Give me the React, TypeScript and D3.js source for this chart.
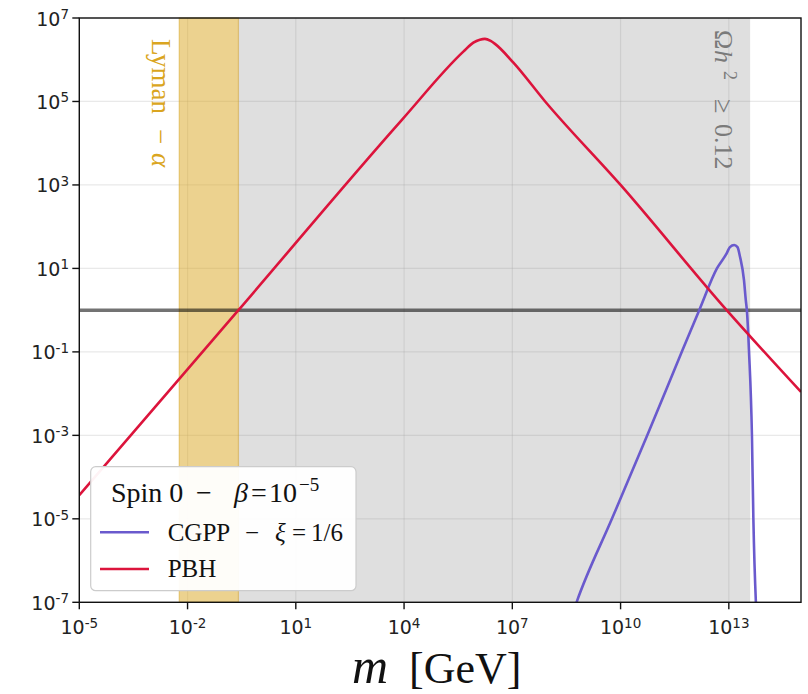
import React from "react";
import * as d3 from "d3";

// Canvas and plot frame
const WIDTH = 808;
const HEIGHT = 694;
const PLOT = { left: 79.3, right: 801, top: 18, bottom: 602.3 };

// Axis ticks (powers of ten)
const xTickExponents = [-5, -2, 1, 4, 7, 10, 13];
const yTickExponents = [7, 5, 3, 1, -1, -3, -5, -7];

// CGPP relic abundance, log10(m / GeV) vs log10(Omega h^2 / 0.12)
const cgppLogMass = [8.7, 8.78, 9.76, 10.74, 11.72, 12.18, 12.67, 12.94, 13.03, 13.15, 13.24, 13.31, 13.42, 13.47, 13.5, 13.56, 13.64, 13.68, 13.75, 13.78];
const cgppLogOmega = [-7.2, -7, -5, -3, -0.95, 0, 1.0, 1.36, 1.51, 1.56, 1.51, 1.28, 0.72, 0.24, 0, -1, -3, -5, -7, -7.5];

// PBH relic abundance
const pbhLogMass = [-5, -0.59, 3.94, 5.65, 5.92, 6.1, 6.24, 6.4, 6.52, 7.03, 7.91, 10, 12.94, 15];
const pbhLogOmega = [-4.43, 0, 4.56, 6.2, 6.41, 6.48, 6.5, 6.45, 6.38, 5.93, 5.0, 3.0, 0, -1.96];

// Shaded exclusion regions (log10 m)
const lymanAlphaRange = [-2.23, -0.59];
const overclosureRange = [-0.59, 13.59];
const referenceLevel = 1;

const SERIF = "'Liberation Serif', 'Times New Roman', serif";
const SANS = "'DejaVu Sans', sans-serif";
const RED = "#dc143c";
const PURPLE = "#6a5acd";
const GOLD = "#daa520";

export default function App() {
  const x = d3.scaleLog().domain([1e-5, 1e15]).range([PLOT.left, PLOT.right]);
  const y = d3.scaleLog().domain([1e-7, 1e7]).range([PLOT.bottom, PLOT.top]);

  const toPoints = (lm: number[], lo: number[]) =>
    lm.map((m, i) => [10 ** m, 10 ** lo[i]] as [number, number]);

  const line = d3
    .line<[number, number]>()
    .x((d) => x(d[0]))
    .y((d) => y(d[1]))
    .curve(d3.curveMonotoneX);

  const cgppPath = line(toPoints(cgppLogMass, cgppLogOmega)) || "";
  const pbhPath = line(toPoints(pbhLogMass, pbhLogOmega)) || "";

  const pw = PLOT.right - PLOT.left;
  const ph = PLOT.bottom - PLOT.top;

  const lyX0 = x(10 ** lymanAlphaRange[0]);
  const lyX1 = x(10 ** lymanAlphaRange[1]);
  const ocX0 = x(10 ** overclosureRange[0]);
  const ocX1 = x(10 ** overclosureRange[1]);

  const leg = { x: 90.7, y: 466.7, w: 265.3, h: 124 };

  return (
    <svg
      width={WIDTH}
      height={HEIGHT}
      style={{ position: "absolute", left: 0, top: 0, background: "#fff" }}
    >
      <defs>
        <clipPath id="plot-clip">
          <rect x={PLOT.left} y={PLOT.top} width={pw} height={ph} />
        </clipPath>
      </defs>
      <rect x={0} y={0} width={WIDTH} height={HEIGHT} fill="#fff" />

      {/* grid */}
      <g stroke="#b0b0b0" strokeOpacity={0.28} strokeWidth={1.2}>
        {xTickExponents.map((e) => (
          <line key={"gx" + e} x1={x(10 ** e)} x2={x(10 ** e)} y1={PLOT.top} y2={PLOT.bottom} />
        ))}
        {yTickExponents.map((e) => (
          <line key={"gy" + e} x1={PLOT.left} x2={PLOT.right} y1={y(10 ** e)} y2={y(10 ** e)} />
        ))}
      </g>

      {/* shaded regions */}
      <rect
        x={lyX0}
        y={PLOT.top}
        width={lyX1 - lyX0}
        height={ph}
        fill={GOLD}
        fillOpacity={0.5}
        stroke={GOLD}
        strokeOpacity={0.5}
        strokeWidth={1.2}
      />
      <rect x={ocX0} y={PLOT.top} width={ocX1 - ocX0} height={ph} fill="#808080" fillOpacity={0.25} />

      {/* reference line */}
      <line
        x1={PLOT.left}
        x2={PLOT.right}
        y1={y(referenceLevel)}
        y2={y(referenceLevel)}
        stroke="#000"
        strokeOpacity={0.55}
        strokeWidth={3.5}
      />

      {/* curves */}
      <g clipPath="url(#plot-clip)" fill="none" strokeWidth={2.6} strokeLinejoin="round">
        <path d={cgppPath} stroke={PURPLE} />
        <path d={pbhPath} stroke={RED} />
      </g>

      {/* region labels, written top to bottom */}
      <text transform="translate(152,0) rotate(90)" fontFamily={SERIF} fontSize={27} fill={GOLD}>
        <tspan x={39}>Lyman</tspan>
        <tspan x={129}>−</tspan>
        <tspan x={153} fontStyle="italic">α</tspan>
      </text>
      <text transform="translate(715,0) rotate(90)" fontFamily={SERIF} fontSize={26} fill="#7a7a7a">
        <tspan x={30}>Ω</tspan>
        <tspan x={50} fontStyle="italic">h</tspan>
        <tspan x={71} dy={-9} fontSize={18}>2</tspan>
        <tspan x={99} dy={9}>≥</tspan>
        <tspan x={124}>0.12</tspan>
      </text>

      {/* frame */}
      <rect x={PLOT.left} y={PLOT.top} width={pw} height={ph} fill="none" stroke="#111" strokeWidth={1.4} />

      {/* ticks and tick labels */}
      <g fontFamily={SANS} fill="#222">
        {xTickExponents.map((e) => {
          const px = x(10 ** e);
          return (
            <g key={"tx" + e}>
              <line x1={px} x2={px} y1={PLOT.bottom} y2={PLOT.bottom + 7} stroke="#111" strokeWidth={1.4} />
              <text x={px} y={634} textAnchor="middle" fontSize={19}>
                10<tspan dy={-6.5} fontSize={13.5}>{e < 0 ? "-" + -e : String(e)}</tspan>
              </text>
            </g>
          );
        })}
        {yTickExponents.map((e) => {
          const py = y(10 ** e);
          return (
            <g key={"ty" + e}>
              <line x1={PLOT.left - 7} x2={PLOT.left} y1={py} y2={py} stroke="#111" strokeWidth={1.4} />
              <text x={69} y={py + 7.5} textAnchor="end" fontSize={19}>
                10<tspan dy={-6.5} fontSize={13.5}>{e < 0 ? "-" + -e : String(e)}</tspan>
              </text>
            </g>
          );
        })}
      </g>

      {/* x axis title */}
      <text y={683} fontFamily={SERIF} fill="#111">
        <tspan x={352} fontSize={50} fontStyle="italic">m</tspan>
        <tspan x={409} fontSize={44}>[GeV]</tspan>
      </text>

      {/* legend */}
      <rect
        x={leg.x}
        y={leg.y}
        width={leg.w}
        height={leg.h}
        rx={5}
        fill="#fff"
        fillOpacity={0.95}
        stroke="#cccccc"
        strokeWidth={1.2}
      />
      <text y={501.7} fontFamily={SERIF} fontSize={28} fill="#111">
        <tspan x={111}>Spin 0</tspan>
        <tspan x={196}>−</tspan>
        <tspan x={234} fontStyle="italic">β</tspan>
        <tspan x={251}>=</tspan>
        <tspan x={269}>10</tspan>
        <tspan x={299} dy={-11} fontSize={19}>−5</tspan>
      </text>
      <line x1={100} x2={149} y1={532.3} y2={532.3} stroke={PURPLE} strokeWidth={2.6} />
      <text y={540.7} fontFamily={SERIF} fontSize={25} fill="#111">
        <tspan x={167.7}>CGPP</tspan>
        <tspan x={245}>−</tspan>
        <tspan x={275} fontStyle="italic">ξ</tspan>
        <tspan x={292}>=</tspan>
        <tspan x={311}>1/6</tspan>
      </text>
      <line x1={100} x2={149} y1={569} y2={569} stroke={RED} strokeWidth={2.6} />
      <text x={167.7} y={576.7} fontFamily={SERIF} fontSize={25} fill="#111">
        PBH
      </text>
    </svg>
  );
}
